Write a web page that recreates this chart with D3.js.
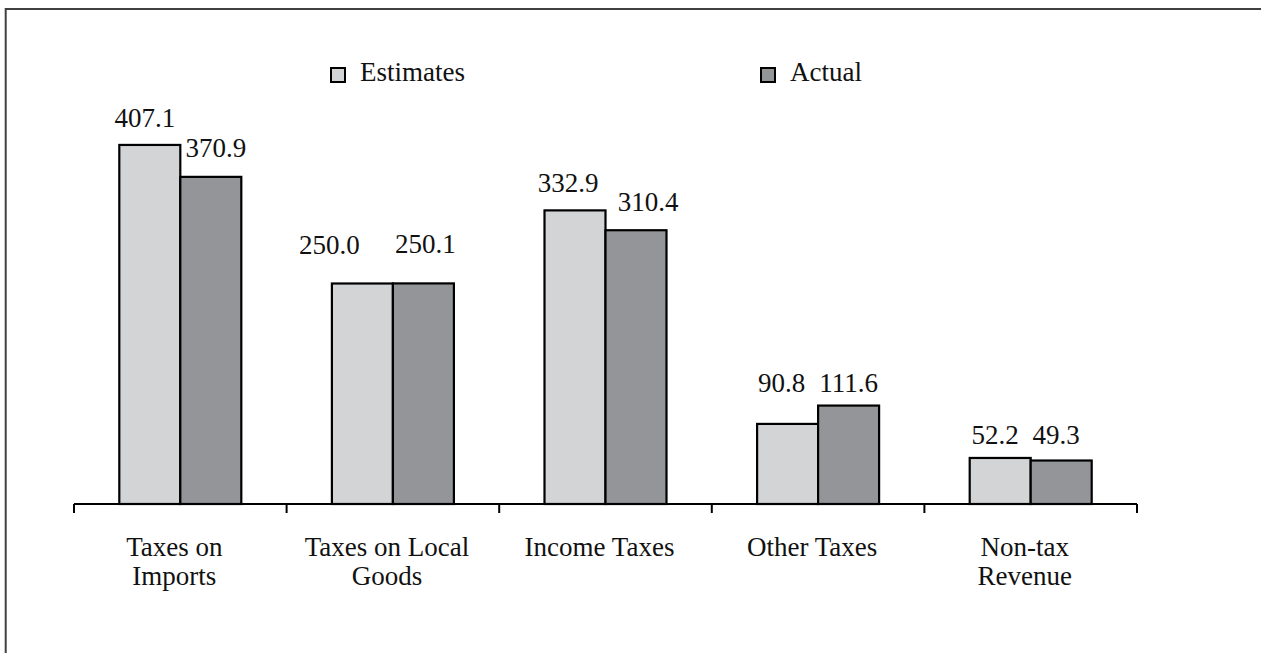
<!DOCTYPE html>
<html>
<head>
<meta charset="utf-8">
<script src="https://cdn.jsdelivr.net/npm/d3@7"></script>
<style>
  html, body { margin: 0; padding: 0; background: #fff; }
  svg { display: block; }
  text { font-family: "Liberation Serif", "Times New Roman", serif; fill: #111; }
</style>
</head>
<body>
<svg id="chart" width="1261" height="653"></svg>
<script>
// Revenue by source: estimates versus actual outturn
const categories = [
  ["Taxes on", "Imports"],
  ["Taxes on Local", "Goods"],
  ["Income Taxes"],
  ["Other Taxes"],
  ["Non-tax", "Revenue"]
];
const seriesNames = ["Estimates", "Actual"];
const estimates = [407.1, 250.0, 332.9, 90.8, 52.2];
const actual = [370.9, 250.1, 310.4, 111.6, 49.3];

// label nudges (dx, dy from the default spot above each bar)
const labelNudge = {
  Estimates: [[-5, 0], [-33, -12], [-7, 0], [-6, -14], [-5, 4]],
  Actual:    [[5, -2], [2, -12], [12, -1], [0, 4], [-5, 1]]
};

const colors = { Estimates: "#d3d4d6", Actual: "#949598" };

const svg = d3.select("#chart");
const W = 1261, H = 653;

// outer frame (top and left edges visible)
svg.append("rect")
  .attr("x", 5.7).attr("y", 9)
  .attr("width", 1400).attr("height", 800)
  .attr("fill", "none").attr("stroke", "#404040").attr("stroke-width", 2);

const baseY = 504;
const x0 = d3.scaleBand().domain(d3.range(categories.length)).range([74, 1137]).padding(0);
const y = d3.scaleLinear().domain([0, 450]).range([baseY, baseY - 450 * 0.882]);

const barW = 61;
const x1 = d3.scaleBand().domain(seriesNames).range([0, barW * 2]).padding(0);

const rows = categories.map((c, i) => ({ i, Estimates: estimates[i], Actual: actual[i] }));

const groups = svg.append("g").selectAll("g")
  .data(rows).join("g")
  .attr("transform", d => `translate(${x0(d.i) + x0.bandwidth() / 2 - barW},0)`);

groups.selectAll("rect")
  .data(d => seriesNames.map(s => ({ s, v: d[s], i: d.i })))
  .join("rect")
  .attr("x", d => x1(d.s))
  .attr("y", d => y(d.v))
  .attr("width", x1.bandwidth())
  .attr("height", d => baseY - y(d.v))
  .attr("fill", d => colors[d.s])
  .attr("stroke", "#000")
  .attr("stroke-width", 2.2);

groups.selectAll("text.val")
  .data(d => seriesNames.map(s => ({ s, v: d[s], i: d.i })))
  .join("text")
  .attr("class", "val")
  .attr("x", d => x1(d.s) + x1.bandwidth() / 2 + labelNudge[d.s][d.i][0])
  .attr("y", d => y(d.v) - 18 + labelNudge[d.s][d.i][1])
  .attr("text-anchor", "middle")
  .attr("font-size", 27)
  .text(d => d.v.toFixed(1));

// category axis
const axis = d3.axisBottom(x0).tickSize(0).tickFormat("");
const axG = svg.append("g").attr("transform", `translate(0,${baseY})`).call(axis);
axG.select(".domain").attr("stroke", "#000").attr("stroke-width", 2).attr("d", `M74,0H1137`);
const edges = d3.range(categories.length + 1).map(k => 74 + k * x0.step());
axG.selectAll("line.edge").data(edges).join("line")
  .attr("class", "edge")
  .attr("x1", d => d).attr("x2", d => d)
  .attr("y1", 0).attr("y2", 9)
  .attr("stroke", "#000").attr("stroke-width", 2);

const catLabels = svg.append("g").selectAll("text")
  .data(categories.map((c, i) => ({ c, i })))
  .join("text")
  .attr("text-anchor", "middle")
  .attr("font-size", 27)
  .attr("transform", d => `translate(${x0(d.i) + x0.bandwidth() / 2 - 6},556)`);
catLabels.selectAll("tspan")
  .data(d => d.c)
  .join("tspan")
  .attr("x", 0)
  .attr("dy", (d, k) => k === 0 ? 0 : 29)
  .text(d => d);

// legend
const legendX = [331, 761];
const lg = svg.append("g").selectAll("g")
  .data(seriesNames).join("g")
  .attr("transform", (d, k) => `translate(${legendX[k]},68)`);
lg.append("rect")
  .attr("x", 0).attr("y", 0).attr("width", 14).attr("height", 14)
  .attr("fill", d => colors[d]).attr("stroke", "#000").attr("stroke-width", 2);
lg.append("text")
  .attr("x", 29).attr("y", 12.5)
  .attr("font-size", 27)
  .text(d => d);
</script>
</body>
</html>
